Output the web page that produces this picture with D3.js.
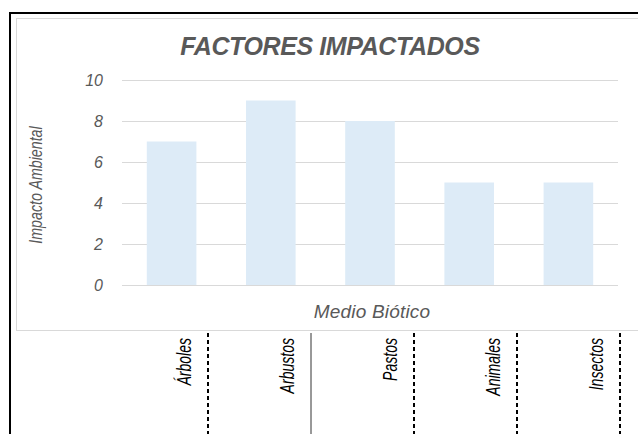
<!DOCTYPE html>
<html>
<head>
<meta charset="utf-8">
<script src="https://cdn.jsdelivr.net/npm/d3@7"></script>
<style>
  html, body { margin: 0; padding: 0; background: #fff; }
  svg { display: block; }
  text { font-family: "Liberation Sans", Arial, sans-serif; }
</style>
</head>
<body>
<svg id="chart" width="638" height="434"></svg>
<script>
// Biotic factors and their environmental impact scores
const categories = ["Árboles", "Arbustos", "Pastos", "Animales", "Insectos"];
const impactValues = [7, 9, 8, 5, 5];
const yTicks = [0, 2, 4, 6, 8, 10];
const chartTitle = "FACTORES IMPACTADOS";
const yTitle = "Impacto Ambiental";
const xTitle = "Medio Biótico";

const svg = d3.select("#chart");
const grey = "#595959";
const gridColor = "#D9D9D9";

// outer sheet border (top and left)
svg.append("line").attr("x1", 9).attr("x2", 638).attr("y1", 13).attr("y2", 13)
  .attr("stroke", "#000").attr("stroke-width", 2);
svg.append("line").attr("x1", 10).attr("x2", 10).attr("y1", 12).attr("y2", 434)
  .attr("stroke", "#000").attr("stroke-width", 2);

// chart frame
svg.append("rect").attr("x", 16.5).attr("y", 18.5).attr("width", 640).attr("height", 312)
  .attr("fill", "#fff").attr("stroke", gridColor).attr("stroke-width", 1);

const plot = { left: 122, right: 618, top: 80, bottom: 285 };

const x = d3.scaleBand().domain(categories)
  .range([plot.left, plot.right]).paddingInner(0.5).paddingOuter(0.25);
const y = d3.scaleLinear().domain([0, 10]).range([plot.bottom, plot.top]);

// gridlines + tick labels via axis
const yAxis = d3.axisLeft(y).tickValues(yTicks).tickSize(-(plot.right - plot.left)).tickPadding(19)
  .tickFormat(d3.format("d"));
const gy = svg.append("g").attr("transform", `translate(${plot.left},0)`).call(yAxis);
gy.select(".domain").remove();
gy.selectAll(".tick line").attr("stroke", gridColor).attr("stroke-width", 1);
gy.selectAll(".tick text").attr("fill", grey)
  .style("font-family", "'Liberation Sans', Arial, sans-serif")
  .style("font-size", "16px").style("font-style", "italic");

// bars
svg.append("g").selectAll("rect").data(categories).join("rect")
  .attr("x", d => x(d))
  .attr("width", x.bandwidth())
  .attr("y", (d, i) => y(impactValues[i]))
  .attr("height", (d, i) => y(0) - y(impactValues[i]))
  .attr("fill", "#DDEBF7");

// title
svg.append("text").attr("x", 330).attr("y", 55).attr("text-anchor", "middle")
  .attr("fill", grey)
  .style("font-size", "25px").style("font-weight", "bold").style("font-style", "italic")
  .style("letter-spacing", "-0.4px")
  .text(chartTitle);

// y-axis title (condensed)
svg.append("text")
  .attr("transform", "translate(42,185) rotate(-90) scale(0.75,1)")
  .attr("text-anchor", "middle").attr("fill", grey)
  .style("font-size", "19px").style("font-style", "italic")
  .text(yTitle);

// x-axis title
svg.append("text").attr("x", 372).attr("y", 318).attr("text-anchor", "middle")
  .attr("fill", grey)
  .style("font-size", "19px").style("font-style", "italic")
  .style("letter-spacing", "0.2px")
  .text(xTitle);

// category table below the chart
const cols = d3.scaleBand().domain(categories).range([105, 620]);
const table = svg.append("g");
table.selectAll("line").data(categories).join("line")
  .attr("x1", d => cols(d) + cols.bandwidth())
  .attr("x2", d => cols(d) + cols.bandwidth())
  .attr("y1", 333).attr("y2", 434)
  .attr("stroke", (d, i) => i === 1 ? "#333" : "#000")
  .attr("stroke-width", (d, i) => i === 1 ? 1 : 2)
  .attr("stroke-dasharray", (d, i) => i === 1 ? null : "4,3");
table.selectAll("text").data(categories).join("text")
  .attr("transform", d => `translate(${cols(d) + cols.bandwidth() - 17},338) rotate(-90) scale(0.72,1)`)
  .attr("text-anchor", "end").attr("fill", "#000")
  .style("font-size", "19.5px").style("font-style", "italic")
  .text(d => d);
</script>
</body>
</html>
